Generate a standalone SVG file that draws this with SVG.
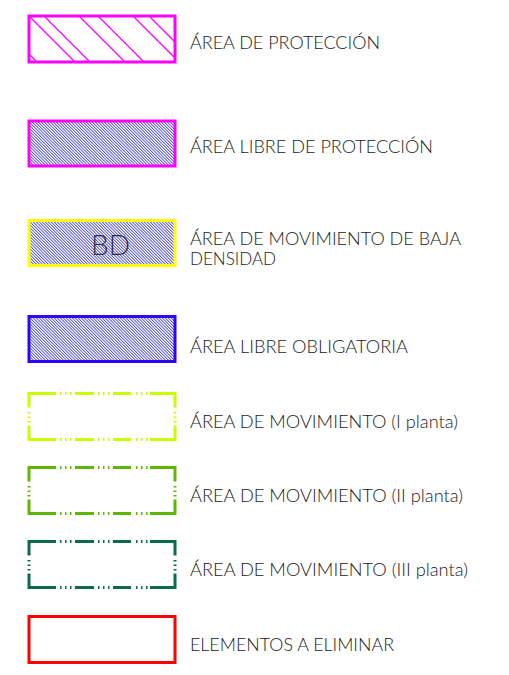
<svg xmlns="http://www.w3.org/2000/svg" xmlns:xlink="http://www.w3.org/1999/xlink" width="509" height="675" viewBox="0 0 509 675">
<style>
.lbl{font-family:Lato,"Liberation Sans",sans-serif;font-weight:300;font-size:17px;fill:#1a1a1a}
.box{fill:none;stroke-width:3}
.hatchbox{fill:url(#fine);stroke-width:3}
.dash{fill:none;stroke:currentColor;stroke-width:3}
.h1{stroke:#ff00ff;stroke-width:1.3}
</style>
<defs>
<pattern id="fine" patternUnits="userSpaceOnUse" x="0" y="0" width="3" height="3">
<rect width="3" height="3" fill="#fff"/>
<g fill="#6a6aee">
<rect x="0" y="0" width="1.5" height="1"/>
<rect x="1" y="1" width="1.5" height="1"/>
<rect x="2" y="2" width="1" height="1"/>
<rect x="0" y="2" width="0.5" height="1"/>
</g>
</pattern>
<clipPath id="c1"><rect x="29" y="16.5" width="146" height="45"/></clipPath>
<g id="dashbox" class="dash">
<path d="M0,0H27M31,0h1.5M36,0h1.5M41,0h1.5M46,0H65M69,0h1.5M74,0h1.5M79,0h1.5M84,0H102M107,0h1.5M112,0h1.5M117,0h1.5M121,0H146"/>
<path d="M0,46H27M31,46h1.5M36,46h1.5M41,46h1.5M46,46H65M69,46h1.5M74,46h1.5M79,46h1.5M84,46H102M107,46h1.5M112,46h1.5M117,46h1.5M121,46H146"/>
<path d="M0,-1.5V14M0,18.5v1.5M0,23v1.5M0,27.5v1.5M0,32V47.5"/>
<path d="M146,-1.5V14M146,18.5v1.5M146,23v1.5M146,27.5v1.5M146,32V47.5"/>
</g>
</defs>
<rect width="509" height="675" fill="#fff"/>
<g id="connectors"/>
<g id="n1">
<rect class="box" x="29" y="16" width="146" height="46" stroke="#ff00ff"/>
<g clip-path="url(#c1)">
<path class="h1" d="M-10,15l48,48M28,15l48,48M43,15l48,48M78,15l48,48M97,15l48,48M132,15l48,48M148,15l48,48"/>
</g>
<text class="lbl" x="190" y="48.5" textLength="190" lengthAdjust="spacingAndGlyphs">ÁREA DE PROTECCIÓN</text>
</g>
<g id="n2">
<rect class="hatchbox" x="29" y="121" width="146" height="45" stroke="#ff00ff"/>
<text class="lbl" x="190" y="153" textLength="243" lengthAdjust="spacingAndGlyphs">ÁREA LIBRE DE PROTECCIÓN</text>
</g>
<g id="n3">
<rect class="hatchbox" x="29" y="220.5" width="146" height="45" stroke="#ffff00"/>
<text x="91" y="255" font-family="Lato,'Liberation Sans',sans-serif" font-weight="300" font-size="28" fill="#333" textLength="39" lengthAdjust="spacingAndGlyphs">BD</text>
<text class="lbl" x="190" y="245" textLength="271" lengthAdjust="spacingAndGlyphs">ÁREA DE MOVIMIENTO DE BAJA</text>
<text class="lbl" x="190" y="265" textLength="86" lengthAdjust="spacingAndGlyphs">DENSIDAD</text>
</g>
<g id="n4">
<rect class="hatchbox" x="29" y="316.5" width="146" height="45" stroke="#3300ff"/>
<text class="lbl" x="190" y="353" textLength="218" lengthAdjust="spacingAndGlyphs">ÁREA LIBRE OBLIGATORIA</text>
</g>
<g id="n5">
<use xlink:href="#dashbox" x="29" y="393.5" color="#c6ff00"/>
<text class="lbl" x="190" y="428" textLength="268" lengthAdjust="spacingAndGlyphs">ÁREA DE MOVIMIENTO (I planta)</text>
</g>
<g id="n6">
<use xlink:href="#dashbox" x="29" y="467.5" color="#5fb800"/>
<text class="lbl" x="190" y="502" textLength="273" lengthAdjust="spacingAndGlyphs">ÁREA DE MOVIMIENTO (II planta)</text>
</g>
<g id="n7">
<use xlink:href="#dashbox" x="29" y="541.5" color="#0b6b4c"/>
<text class="lbl" x="190" y="576" textLength="278" lengthAdjust="spacingAndGlyphs">ÁREA DE MOVIMIENTO (III planta)</text>
</g>
<g id="n8">
<rect class="box" x="29" y="616.5" width="146" height="46" stroke="#ff0000"/>
<text class="lbl" x="190" y="651" textLength="204" lengthAdjust="spacingAndGlyphs">ELEMENTOS A ELIMINAR</text>
</g>
</svg>
